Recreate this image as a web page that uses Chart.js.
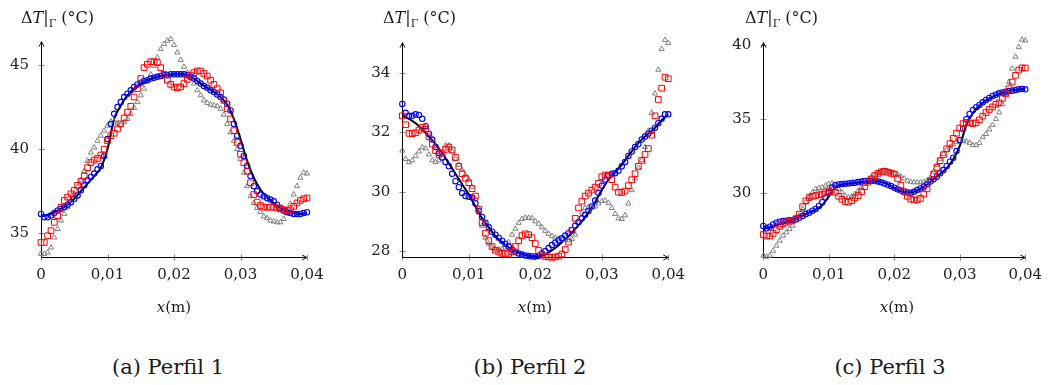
<!DOCTYPE html>
<html>
<head>
<meta charset="utf-8">
<script src="https://cdn.jsdelivr.net/npm/chart.js@4.4.0/dist/chart.umd.min.js"></script>
<style>
  body{margin:0;background:#fff;width:1051px;height:385px;position:relative;overflow:hidden;font-family:'DejaVu Serif',serif;color:#1a1a1a}
  .painel{position:absolute;top:0}
  .ylab{position:absolute;top:8px;font-size:16px;white-space:nowrap}
  .ylab sub{font-size:11px}
  .xlab{position:absolute;top:298px;font-size:15px;white-space:nowrap;transform:translateX(-50%)}
  .legenda{position:absolute;top:355px;font-size:21px;white-space:nowrap;transform:translateX(-50%)}
</style>
</head>
<body>
<div class="painel" style="left:0"><canvas id="c1" width="350" height="300"></canvas></div>
<div class="painel" style="left:350px"><canvas id="c2" width="350" height="300"></canvas></div>
<div class="painel" style="left:700px"><canvas id="c3" width="351" height="300"></canvas></div>

<div class="ylab" style="left:21px">Δ<i>T</i>|<sub>Γ</sub> (°C)</div>
<div class="ylab" style="left:383px">Δ<i>T</i>|<sub>Γ</sub> (°C)</div>
<div class="ylab" style="left:745px">Δ<i>T</i>|<sub>Γ</sub> (°C)</div>

<div class="xlab" style="left:174px"><i>x</i>(m)</div>
<div class="xlab" style="left:535px"><i>x</i>(m)</div>
<div class="xlab" style="left:897px"><i>x</i>(m)</div>

<div class="legenda" style="left:168px">(a) Perfil 1</div>
<div class="legenda" style="left:530px">(b) Perfil 2</div>
<div class="legenda" style="left:890px">(c) Perfil 3</div>

<script>
// malha de pontos (x em metros)
const xs = [0,0.0005,0.001,0.0015,0.002,0.0025,0.003,0.0035,0.004,0.0045,
  0.005,0.0055,0.006,0.0065,0.007,0.0075,0.008,0.0085,0.009,0.0095,
  0.01,0.0105,0.011,0.0115,0.012,0.0125,0.013,0.0135,0.014,0.0145,
  0.015,0.0155,0.016,0.0165,0.017,0.0175,0.018,0.0185,0.019,0.0195,
  0.02,0.0205,0.021,0.0215,0.022,0.0225,0.023,0.0235,0.024,0.0245,
  0.025,0.0255,0.026,0.0265,0.027,0.0275,0.028,0.0285,0.029,0.0295,
  0.03,0.0305,0.031,0.0315,0.032,0.0325,0.033,0.0335,0.034,0.0345,
  0.035,0.0355,0.036,0.0365,0.037,0.0375,0.038,0.0385,0.039,0.0395,
  0.04]
const xsLinha = [0,0.001,0.002,0.003,0.004,0.005,0.006,0.007,0.008,0.009,
  0.01,0.011,0.012,0.013,0.014,0.015,0.016,0.017,0.018,0.019,
  0.02,0.021,0.022,0.023,0.024,0.025,0.026,0.027,0.028,0.029,
  0.03,0.031,0.032,0.033,0.034,0.035,0.036,0.037,0.038,0.039,0.04]
const xTicks = [0,0.01,0.02,0.03,0.04]

// Perfil 1
const exato1 = [36.0,36.1,36.25,36.45,36.7,37.05,37.5,37.95,38.4,38.9,
  40.0,41.8,42.6,43.2,43.6,43.9,44.1,44.25,44.35,44.4,
  44.45,44.45,44.4,44.2,43.9,43.65,43.4,43.1,42.65,41.8,
  40.6,39.3,38.3,37.6,37.15,36.8,36.5,36.3,36.2,36.15,36.2]
const azul1 = [36.15,35.95,35.95,36.05,36.2,36.35,36.45,36.55,36.7,36.85,
  37.05,37.25,37.55,37.85,38.15,38.35,38.55,38.8,39.0,39.6,
  40.6,41.5,42.1,42.5,42.8,43.1,43.3,43.5,43.7,43.85,
  43.95,44.05,44.1,44.2,44.25,44.3,44.35,44.4,44.4,44.45,
  44.45,44.45,44.45,44.45,44.4,44.3,44.2,44.05,43.9,43.75,
  43.65,43.5,43.4,43.25,43.1,42.95,42.7,42.3,41.5,40.8,
  40.2,39.6,39.0,38.4,37.8,37.5,37.3,37.2,37.1,37.0,
  36.9,36.7,36.5,36.35,36.25,36.2,36.15,36.15,36.15,36.2,36.25]
const vermelho1 = [34.45,34.45,34.85,35.15,35.65,36.05,36.55,36.95,37.15,37.35,
  37.55,37.85,38.1,38.4,38.9,39.2,39.35,39.45,39.65,40.0,
  40.5,40.8,40.95,41.2,41.5,41.85,42.2,42.55,43.1,43.6,
  44.2,44.85,45.05,45.2,45.2,45.15,44.85,44.45,44.1,43.85,
  43.7,43.65,43.7,43.9,44.15,44.4,44.55,44.65,44.65,44.5,
  44.35,44.1,43.85,43.6,43.35,42.9,42.4,41.8,41.1,40.4,
  39.7,39.2,38.7,38.0,37.3,36.85,36.65,36.55,36.55,36.55,
  36.55,36.5,36.45,36.4,36.35,36.4,36.6,36.8,36.95,37.05,37.1]
const cinza1 = [33.77,33.77,33.85,34.15,34.75,35.25,35.75,36.15,36.55,36.95,
  37.35,37.75,38.15,38.7,39.3,39.8,40.1,40.5,40.8,41.1,
  41.4,41.65,41.65,41.55,41.45,41.6,41.8,42.1,42.45,42.8,
  43.2,43.6,44.1,44.45,44.95,45.45,45.95,46.25,46.45,46.55,
  46.2,45.75,45.3,44.9,44.55,44.25,43.9,43.5,43.2,42.9,
  42.75,42.65,42.6,42.55,42.4,42.05,41.5,41.0,40.5,40.0,
  39.4,38.6,37.8,37.2,36.8,36.5,36.25,36.0,35.9,35.75,
  35.7,35.65,35.65,35.85,36.2,36.75,37.3,37.8,38.3,38.6,38.55]
const yTicks1 = [35,40,45]

// Perfil 2
const exato2 = [32.55,32.45,32.3,32.1,31.85,31.6,31.3,30.95,30.6,30.25,
  29.9,29.5,29.1,28.8,28.5,28.3,28.12,28.0,27.9,27.84,
  27.82,27.85,27.95,28.1,28.3,28.5,28.75,29.0,29.3,29.65,
  30.05,30.4,30.65,30.9,31.2,31.5,31.75,31.95,32.15,32.4,32.6]
const azul2 = [32.95,32.65,32.55,32.55,32.6,32.58,32.45,32.2,31.95,31.75,
  31.5,31.3,31.15,31.0,30.85,30.6,30.35,30.15,29.95,29.85,
  29.83,29.8,29.6,29.35,29.15,28.95,28.8,28.65,28.55,28.45,
  28.35,28.25,28.15,28.05,27.98,27.92,27.88,27.85,27.83,27.82,
  27.82,27.83,27.92,28.0,28.1,28.2,28.28,28.36,28.43,28.52,
  28.6,28.7,28.85,28.98,29.1,29.22,29.35,29.5,29.7,29.95,
  30.2,30.4,30.55,30.6,30.62,30.7,30.85,31.0,31.2,31.35,
  31.5,31.6,31.75,31.85,31.95,32.05,32.15,32.3,32.45,32.6,32.6]
const vermelho2 = [32.55,32.25,31.96,31.95,31.98,32.07,32.16,32.1,31.85,31.6,
  31.38,31.25,31.3,31.42,31.5,31.4,31.15,30.85,30.6,30.45,
  30.3,30.1,29.85,29.4,28.95,28.6,28.35,28.15,28.03,27.97,
  27.92,27.92,27.92,27.98,28.15,28.35,28.52,28.58,28.55,28.45,
  28.25,28.02,27.88,27.82,27.8,27.79,27.8,27.83,27.9,28.05,
  28.3,28.7,29.1,29.45,29.68,29.85,29.95,30.05,30.15,30.28,
  30.5,30.56,30.55,30.4,30.15,29.98,29.97,30.02,30.2,30.4,
  30.6,30.85,31.05,31.25,31.45,31.9,32.55,33.1,33.48,33.85,33.8]
const cinza2 = [31.38,31.1,30.99,31.05,31.2,31.35,31.49,31.45,31.25,31.05,
  30.99,31.05,31.3,31.55,31.55,31.35,31.1,30.9,30.72,30.55,
  30.4,30.15,29.75,29.3,28.85,28.45,28.25,28.12,28.06,28.05,
  28.07,28.12,28.3,28.55,28.75,28.95,29.08,29.12,29.12,29.1,
  29.0,28.92,28.8,28.68,28.58,28.5,28.45,28.42,28.4,28.38,
  28.36,28.4,28.55,28.95,29.3,29.45,29.47,29.48,29.5,29.6,
  29.68,29.7,29.62,29.45,29.25,29.1,29.08,29.2,29.6,30.05,
  30.44,30.8,31.06,31.5,32.05,32.65,33.3,34.1,34.8,35.1,35.0]
const yTicks2 = [28,30,32,34]

// Perfil 3
const exato3 = [27.6,27.7,27.85,28.0,28.15,28.3,28.5,28.7,28.9,29.2,
  29.8,30.4,30.6,30.65,30.7,30.75,30.8,30.82,30.8,30.6,
  30.35,30.15,30.05,30.1,30.3,30.6,30.95,31.3,31.7,32.3,
  33.2,34.6,35.4,35.9,36.25,36.5,36.7,36.85,36.95,37.0,37.05]
const azul3 = [27.8,27.64,27.75,27.9,28.02,28.09,28.13,28.16,28.18,28.2,
  28.27,28.35,28.47,28.6,28.7,28.83,28.95,29.15,29.4,29.72,
  30.05,30.4,30.56,30.6,30.63,30.65,30.67,30.7,30.72,30.76,
  30.79,30.83,30.85,30.85,30.84,30.8,30.75,30.67,30.58,30.49,
  30.38,30.27,30.19,30.11,30.06,30.04,30.1,30.22,30.33,30.45,
  30.62,30.79,30.95,31.12,31.35,31.57,31.85,32.13,32.4,32.85,
  33.6,34.35,35.0,35.35,35.62,35.8,35.96,36.13,36.29,36.43,
  36.56,36.65,36.74,36.8,36.85,36.89,36.92,36.97,37.01,37.03,37.01]
const vermelho3 = [27.22,27.12,27.12,27.3,27.55,27.78,27.95,28.05,28.12,28.18,
  28.3,28.6,29.1,29.5,29.72,29.8,29.85,29.9,29.95,30.05,
  30.15,30.22,30.07,29.8,29.6,29.45,29.4,29.5,29.7,29.85,
  30.1,30.45,30.75,30.97,31.2,31.35,31.45,31.48,31.42,31.35,
  31.3,31.0,30.55,30.1,29.8,29.62,29.55,29.56,29.66,29.95,
  30.3,30.85,31.3,31.75,32.2,32.6,33.0,33.35,33.7,34.05,
  34.4,34.7,34.78,34.75,34.7,34.75,34.95,35.2,35.45,35.65,
  35.82,36.0,36.1,36.4,36.7,37.05,37.5,37.95,38.3,38.45,38.45]
const cinza3 = [25.8,25.73,25.8,26.13,26.47,26.81,27.15,27.37,27.6,27.82,
  28.16,28.49,28.94,29.39,29.73,30.07,30.29,30.36,30.4,30.52,
  30.63,30.67,30.52,30.29,30.07,29.84,29.73,29.78,29.96,30.18,
  30.4,30.63,30.85,31.08,31.22,31.38,31.48,31.53,31.5,31.45,
  31.35,31.25,31.15,31.0,30.85,30.78,30.74,30.74,30.74,30.78,
  30.85,31.05,31.45,31.9,32.3,32.65,32.9,33.1,33.3,33.45,
  33.52,33.55,33.5,33.4,33.25,33.25,33.4,33.78,34.0,34.3,
  34.6,35.0,35.45,36.0,36.7,37.5,38.4,39.2,39.85,40.35,40.3]
const yTicks3 = [30,35,40]

const fonte = {family:"'DejaVu Serif', serif", size:15}

function pares(xv, yv){ return yv.map((v,i)=>({x:xv[i], y:v})) }

function linhaEixo(ctx,x1,y1,x2,y2){ ctx.beginPath(); ctx.moveTo(x1,y1); ctx.lineTo(x2,y2); ctx.stroke() }

// eixos com seta e marcas de escala atravessando o eixo
const eixos = {
  id:'eixos',
  beforeDatasetsDraw(chart){
    const ctx = chart.ctx, a = chart.chartArea, sx = chart.scales.x, sy = chart.scales.y
    const xb = Math.round(a.bottom)+0.5, xl = Math.round(a.left)+0.5
    ctx.save()
    ctx.lineWidth = 1
    ctx.strokeStyle = '#8a8a8a'
    sx.ticks.forEach(t=>{ const p = Math.round(sx.getPixelForValue(t.value))+0.5; linhaEixo(ctx,p,xb-3,p,xb+3) })
    sy.ticks.forEach(t=>{ const p = Math.round(sy.getPixelForValue(t.value))+0.5; linhaEixo(ctx,xl-3,p,xl+3,p) })
    ctx.strokeStyle = '#000'
    linhaEixo(ctx,xl,xb,a.right,xb)
    linhaEixo(ctx,xl,xb,xl,a.top)
    ctx.lineWidth = 0.9
    linhaEixo(ctx,a.right,xb,a.right-5,xb-2.5); linhaEixo(ctx,a.right,xb,a.right-5,xb+2.5)
    linhaEixo(ctx,xl,a.top,xl-2.5,a.top+5); linhaEixo(ctx,xl,a.top,xl+2.5,a.top+5)
    ctx.restore()
  }
}

function montar(id, exato, azul, vermelho, cinza, yMin, yMax, yTicks, area){
  const W = document.getElementById(id).width, H = 300, XH = 40
  new Chart(document.getElementById(id), {
    type:'scatter',
    data:{ datasets:[
      {data:pares(xs,vermelho), pointStyle:'rect', pointRadius:4, borderColor:'#ff0000', backgroundColor:'transparent', borderWidth:1, showLine:false, clip:false, order:0},
      {data:pares(xs,azul), pointStyle:'circle', pointRadius:2.7, borderColor:'#0000ff', backgroundColor:'transparent', borderWidth:1.1, showLine:false, clip:false, order:1},
      {data:pares(xs,cinza), pointStyle:'triangle', pointRadius:3, borderColor:'#808080', backgroundColor:'transparent', borderWidth:1, showLine:false, clip:false, order:2},
      {data:pares(xsLinha,exato), showLine:true, pointRadius:0, borderColor:'#000', borderWidth:2, cubicInterpolationMode:'monotone', clip:false, order:3}
    ]},
    options:{
      responsive:false, animation:false, events:[],
      layout:{padding:{left:0, right:W-area.right, top:area.top, bottom:H-area.bottom-XH}},
      plugins:{legend:{display:false}, tooltip:{enabled:false}},
      scales:{
        x:{type:'linear', min:0, max:0.04,
          afterBuildTicks: s=>{ s.ticks = xTicks.map(v=>({value:v})) },
          afterFit: s=>{ s.height = XH },
          grid:{display:false, drawTicks:false}, border:{display:false},
          ticks:{font:fonte, color:'#222', padding:9, maxRotation:0, autoSkip:false,
            callback: v => v===0 ? '0' : v.toFixed(2).replace('.',',')}},
        y:{type:'linear', min:yMin, max:yMax,
          afterBuildTicks: s=>{ s.ticks = yTicks.map(v=>({value:v})) },
          afterFit: s=>{ s.width = area.left },
          grid:{display:false, drawTicks:false}, border:{display:false},
          ticks:{font:fonte, color:'#222', padding:12, callback: v => String(v)}}
      }
    },
    plugins:[eixos]
  })
}

montar('c1', exato1, azul1, vermelho1, cinza1, 33.57, 46.39, yTicks1, {left:41, right:307, top:41.7, bottom:257.3})
montar('c2', exato2, azul2, vermelho2, cinza2, 27.79, 35.01, yTicks2, {left:52.3, right:318.3, top:42.7, bottom:257.3})
montar('c3', exato3, azul3, vermelho3, cinza3, 25.69, 40.15, yTicks3, {left:63.3, right:330, top:42.7, bottom:257.3})
</script>
</body>
</html>
